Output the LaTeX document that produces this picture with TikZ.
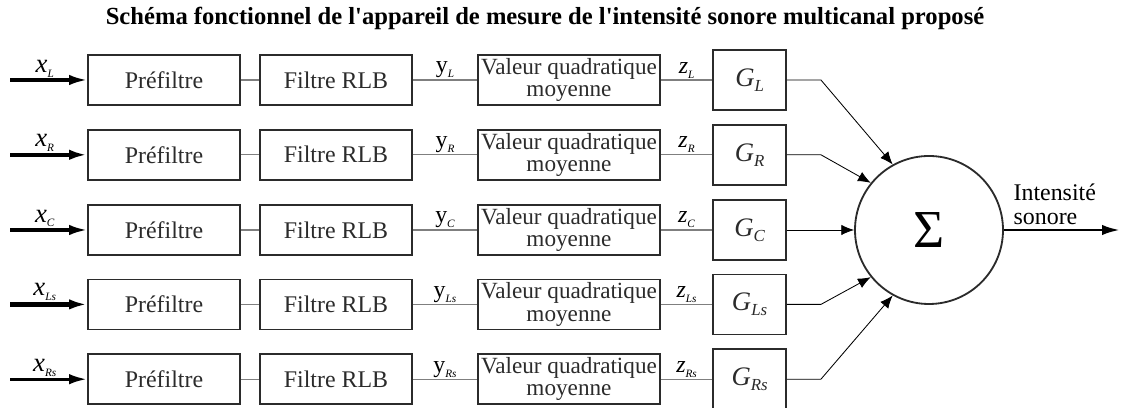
\documentclass[tikz,border=0pt]{standalone}
\usepackage{fontspec}
\setmainfont{Liberation Serif}
\usetikzlibrary{arrows.meta,positioning}
\definecolor{trait}{HTML}{2B2B2B}
\definecolor{fil}{HTML}{7F7F7F}
\newcommand\ind[2][8]{\raisebox{-0.45ex}{\fontsize{#1}{#1}\selectfont\itshape #2}}
\newcommand\vx[1]{{\fontsize{19}{19}\selectfont\itshape x}\ind{#1}}
\newcommand\vy[1]{{\fontsize{17}{17}\selectfont y}\ind[8]{#1}}
\newcommand\vz[1]{{\fontsize{17}{17}\selectfont\itshape z}\ind[8]{#1}}
\newcommand\vg[1]{{\fontsize{19}{19}\selectfont\itshape G}\ind[12]{#1}}
\tikzset{
  bloc/.style   = {rectangle, draw=trait, line width=1.2pt, minimum width=38mm, minimum height=12.5mm, font=\fontsize{17}{17}\selectfont, text=trait},
  moy/.style    = {bloc, minimum width=45.5mm, align=center, inner sep=1pt, font=\fontsize{16.5}{16}\selectfont},
  gain/.style   = {bloc, minimum width=18.25mm, minimum height=15mm},
  somme/.style  = {circle, draw=trait, line width=1.3pt, minimum size=37mm, font=\fontsize{38}{38}\selectfont},
  fil/.style    = {draw=fil, line width=0.8pt},
  entree/.style = {line width=2.2pt, -{Latex[length=4.5mm,width=2.6mm]}},
  vers/.style   = {line width=0.6pt, -{Latex[length=3.2mm,width=2.6mm]}},
  et/.style     = {font=\fontsize{17}{17}\selectfont, inner sep=1pt},
  titre/.style  = {font=\fontsize{17.5}{17.5}\selectfont\bfseries}
}
\begin{document}
\begin{tikzpicture}
  \useasboundingbox (0,0) rectangle (28.025,10.2);
  \node[titre] (T) at (13.625,9.75) {Schéma fonctionnel de l\textquotesingle appareil de mesure de l\textquotesingle intensité sonore multicanal proposé};
  \node[somme] (S) at (23.225,4.45) {Σ};
  \coordinate (o) at (28.0,4.45); \draw[entree,line width=2pt] (S) -- (o);
  \node[et,align=left,above right=1mm and 2mm of S.east] (sortie) {Intensité\\sonore};
  % voie L
  \node[bloc] (pL) at (4.1,8.2) {Préfiltre};  \node[bloc] (fL) at (8.4,8.2) {Filtre RLB};
  \node[moy]  (vL) at (14.225,8.2) {Valeur quadratique\\moyenne}; \node[gain] (gL) at (18.74,8.2) {\vg{L}};
  \coordinate (iL) at (0.25,8.2); \draw[entree] (iL) -- node[et,above,pos=0.45]{\vx{L}} (pL);
  \draw[fil] (pL) -- (fL); \draw[fil] (fL) -- node[et,above]{\vy{L}} (vL); \draw[fil] (vL) -- node[et,above]{\vz{L}} (gL);
  \draw[vers] (gL.east) -- ++(0.85,0) -- (S.119);
  % voie R
  \node[bloc] (pR) at (4.1,6.33) {Préfiltre};  \node[bloc] (fR) at (8.4,6.33) {Filtre RLB};
  \node[moy]  (vR) at (14.225,6.33) {Valeur quadratique\\moyenne}; \node[gain] (gR) at (18.74,6.33) {\vg{R}};
  \coordinate (iR) at (0.25,6.33); \draw[entree,line width=3.2pt] (iR) -- node[et,above,pos=0.45]{\vx{R}} (pR);
  \draw[fil] (pR) -- (fR); \draw[fil] (fR) -- node[et,above]{\vy{R}} (vR); \draw[fil] (vR) -- node[et,above]{\vz{R}} (gR);
  \draw[vers] (gR.east) -- ++(0.85,0) -- (S.141);
  % voie C
  \node[bloc] (pC) at (4.1,4.45) {Préfiltre};  \node[bloc] (fC) at (8.4,4.45) {Filtre RLB};
  \node[moy]  (vC) at (14.225,4.45) {Valeur quadratique\\moyenne}; \node[gain] (gC) at (18.74,4.45) {\vg{C}};
  \coordinate (iC) at (0.25,4.45); \draw[entree] (iC) -- node[et,above,pos=0.45]{\vx{C}} (pC);
  \draw[fil] (pC) -- (fC); \draw[fil] (fC) -- node[et,above]{\vy{C}} (vC); \draw[fil] (vC) -- node[et,above]{\vz{C}} (gC);
  \draw[vers] (gC) -- (S);
  % voie Ls
  \node[bloc] (pLs) at (4.1,2.59) {Préfiltre};  \node[bloc] (fLs) at (8.4,2.59) {Filtre RLB};
  \node[moy]  (vLs) at (14.225,2.59) {Valeur quadratique\\moyenne}; \node[gain] (gLs) at (18.74,2.59) {\vg{Ls}};
  \coordinate (iLs) at (0.25,2.59); \draw[entree,line width=3.2pt] (iLs) -- node[et,above,pos=0.45]{\vx{Ls}} (pLs);
  \draw[fil] (pLs) -- (fLs); \draw[fil] (fLs) -- node[et,above]{\vy{Ls}} (vLs); \draw[fil] (vLs) -- node[et,above]{\vz{Ls}} (gLs);
  \draw[vers] (gLs.east) -- ++(0.85,0) -- (S.219);
  % voie Rs
  \node[bloc] (pRs) at (4.1,0.72) {Préfiltre};  \node[bloc] (fRs) at (8.4,0.72) {Filtre RLB};
  \node[moy]  (vRs) at (14.225,0.72) {Valeur quadratique\\moyenne}; \node[gain] (gRs) at (18.74,0.72) {\vg{Rs}};
  \coordinate (iRs) at (0.25,0.72); \draw[entree] (iRs) -- node[et,above,pos=0.45]{\vx{Rs}} (pRs);
  \draw[fil] (pRs) -- (fRs); \draw[fil] (fRs) -- node[et,above]{\vy{Rs}} (vRs); \draw[fil] (vRs) -- node[et,above]{\vz{Rs}} (gRs);
  \draw[vers] (gRs.east) -- ++(0.85,0) -- (S.241);
\end{tikzpicture}
\end{document}
